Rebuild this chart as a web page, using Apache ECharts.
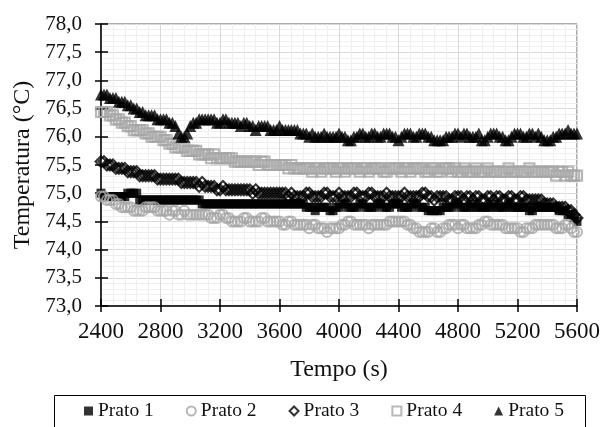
<!DOCTYPE html>
<html><head><meta charset="utf-8">
<script src="https://cdn.jsdelivr.net/npm/echarts@6/dist/echarts.min.js"></script>
<style>html,body{margin:0;padding:0;background:#fff}#c{width:603px;height:427px}</style>
</head><body><div id="c"></div>
<script>
// sampling grid of the time axis (s)
const tStart = 2400, tStep = 20;
const seriesNames = ['Prato 1', 'Prato 2', 'Prato 3', 'Prato 4', 'Prato 5'];
const prato1 = [
75.0,74.94,74.94,74.94,74.94,74.94,74.94,74.94,74.94,75.0,
75.0,75.0,75.0,74.88,74.88,74.88,74.88,74.88,74.88,74.88,
74.88,74.88,74.88,74.88,74.88,74.88,74.88,74.88,74.88,74.88,
74.88,74.88,74.88,74.88,74.81,74.81,74.81,74.81,74.81,74.81,
74.81,74.81,74.81,74.81,74.81,74.81,74.81,74.81,74.81,74.81,
74.81,74.81,74.81,74.81,74.81,74.81,74.81,74.81,74.81,74.81,
74.81,74.81,74.81,74.81,74.81,74.81,74.81,74.81,74.81,74.75,
74.75,74.75,74.69,74.75,74.75,74.75,74.75,74.69,74.69,74.75,
74.75,74.81,74.81,74.75,74.75,74.75,74.75,74.81,74.81,74.75,
74.75,74.75,74.75,74.81,74.81,74.75,74.75,74.75,74.81,74.81,
74.81,74.75,74.75,74.75,74.75,74.81,74.81,74.75,74.75,74.75,
74.69,74.69,74.69,74.69,74.69,74.75,74.75,74.75,74.75,74.81,
74.81,74.75,74.75,74.75,74.75,74.81,74.75,74.75,74.75,74.75,
74.75,74.75,74.81,74.75,74.75,74.75,74.75,74.81,74.75,74.75,
74.75,74.75,74.75,74.75,74.69,74.69,74.75,74.75,74.75,74.75,
74.75,74.75,74.75,74.75,74.69,74.69,74.69,74.62,74.62,74.56,
74.5];
const prato2 = [
74.94,74.94,74.88,74.88,74.88,74.81,74.81,74.75,74.75,74.75,
74.75,74.69,74.69,74.69,74.69,74.75,74.75,74.75,74.75,74.69,
74.69,74.69,74.69,74.62,74.69,74.69,74.62,74.62,74.69,74.62,
74.62,74.62,74.62,74.62,74.62,74.62,74.62,74.56,74.56,74.56,
74.62,74.62,74.56,74.56,74.5,74.5,74.5,74.5,74.56,74.56,
74.5,74.5,74.5,74.5,74.56,74.56,74.5,74.5,74.5,74.5,
74.5,74.44,74.44,74.5,74.5,74.44,74.44,74.44,74.44,74.44,
74.38,74.44,74.44,74.38,74.38,74.38,74.31,74.38,74.38,74.38,
74.38,74.44,74.44,74.5,74.5,74.44,74.44,74.44,74.44,74.44,
74.38,74.44,74.44,74.44,74.44,74.44,74.44,74.5,74.5,74.5,
74.5,74.5,74.5,74.44,74.44,74.38,74.38,74.31,74.31,74.31,
74.31,74.38,74.38,74.31,74.31,74.38,74.38,74.44,74.44,74.44,
74.38,74.44,74.44,74.38,74.38,74.38,74.38,74.44,74.44,74.5,
74.5,74.44,74.44,74.44,74.44,74.44,74.38,74.38,74.38,74.38,
74.38,74.31,74.31,74.38,74.38,74.38,74.44,74.44,74.44,74.44,
74.44,74.44,74.44,74.38,74.38,74.38,74.44,74.44,74.38,74.31,
74.31];
const prato3 = [
75.56,75.56,75.5,75.5,75.5,75.44,75.44,75.44,75.44,75.38,
75.38,75.38,75.38,75.31,75.31,75.31,75.31,75.31,75.31,75.25,
75.25,75.25,75.25,75.25,75.25,75.25,75.25,75.19,75.19,75.19,
75.19,75.19,75.19,75.12,75.19,75.12,75.12,75.12,75.12,75.06,
75.06,75.12,75.06,75.06,75.06,75.06,75.06,75.06,75.06,75.06,
75.06,75.0,75.06,75.0,75.0,75.0,75.0,75.0,75.0,75.0,
75.0,75.0,75.0,74.94,75.0,74.94,74.94,74.94,74.94,75.0,
75.0,74.94,74.94,74.94,74.94,75.0,75.0,74.94,74.94,74.94,
75.0,74.94,74.94,74.94,74.94,75.0,75.0,74.94,74.94,74.94,
75.0,75.0,74.94,74.94,74.94,74.94,75.0,74.94,74.94,74.94,
74.94,74.94,75.0,74.94,74.94,74.94,74.94,74.94,75.0,75.0,
74.94,74.94,74.88,74.94,74.94,74.94,74.94,74.88,74.88,74.94,
74.94,74.94,74.88,74.94,74.94,74.88,74.94,74.94,74.88,74.88,
74.94,74.94,74.88,74.94,74.94,74.88,74.88,74.94,74.94,74.88,
74.88,74.94,74.94,74.88,74.88,74.88,74.88,74.88,74.88,74.81,
74.81,74.81,74.81,74.75,74.75,74.75,74.75,74.69,74.69,74.62,
74.56];
const prato4 = [
76.44,76.44,76.44,76.38,76.38,76.31,76.31,76.25,76.25,76.19,
76.19,76.12,76.12,76.12,76.12,76.06,76.06,76.0,76.0,76.0,
76.0,75.94,75.94,75.88,75.88,75.81,75.81,75.81,75.81,75.75,
75.75,75.75,75.75,75.69,75.69,75.69,75.69,75.62,75.69,75.62,
75.62,75.62,75.62,75.62,75.62,75.56,75.56,75.56,75.56,75.56,
75.56,75.56,75.56,75.5,75.56,75.56,75.5,75.5,75.5,75.5,
75.5,75.5,75.5,75.44,75.5,75.44,75.44,75.44,75.44,75.44,
75.44,75.38,75.44,75.44,75.38,75.44,75.44,75.44,75.44,75.38,
75.44,75.44,75.38,75.44,75.44,75.44,75.44,75.38,75.44,75.44,
75.38,75.44,75.44,75.44,75.44,75.38,75.38,75.44,75.44,75.44,
75.44,75.38,75.44,75.44,75.38,75.44,75.44,75.44,75.44,75.38,
75.38,75.44,75.44,75.38,75.38,75.44,75.44,75.44,75.38,75.44,
75.38,75.38,75.44,75.38,75.38,75.38,75.44,75.38,75.38,75.38,
75.44,75.38,75.38,75.38,75.38,75.38,75.38,75.44,75.38,75.38,
75.38,75.38,75.38,75.38,75.44,75.38,75.38,75.38,75.38,75.38,
75.38,75.38,75.38,75.31,75.38,75.38,75.31,75.38,75.31,75.31,
75.31];
const prato5 = [
76.75,76.75,76.75,76.69,76.69,76.69,76.62,76.62,76.62,76.56,
76.56,76.5,76.5,76.44,76.44,76.38,76.38,76.38,76.38,76.31,
76.31,76.31,76.31,76.25,76.25,76.19,76.06,76.0,76.0,76.06,
76.19,76.25,76.25,76.31,76.31,76.31,76.31,76.31,76.31,76.25,
76.25,76.31,76.31,76.25,76.25,76.25,76.25,76.19,76.25,76.25,
76.19,76.19,76.12,76.19,76.19,76.19,76.19,76.12,76.12,76.12,
76.19,76.12,76.12,76.12,76.12,76.12,76.12,76.06,76.06,76.06,
76.0,76.06,76.0,76.0,76.0,76.06,76.0,76.0,76.0,76.0,
76.06,76.0,76.0,75.94,75.94,76.0,76.0,76.06,76.06,76.0,
76.0,76.06,76.06,76.0,76.0,76.06,76.06,76.06,76.0,76.0,
75.94,76.0,76.06,76.06,76.06,76.0,76.0,76.06,76.06,76.06,
76.0,76.0,75.94,75.94,75.94,75.94,76.0,76.0,76.0,76.06,
76.06,76.0,76.06,76.06,76.0,76.0,76.0,76.06,75.94,75.94,
76.0,76.06,76.06,76.06,76.0,76.0,75.94,75.94,76.0,76.06,
76.06,76.06,76.0,76.0,76.06,76.06,76.0,76.06,76.0,75.94,
75.94,75.94,76.0,76.0,76.06,76.06,76.06,76.12,76.06,76.06,
76.06];
const xTicks = [2400, 2800, 3200, 3600, 4000, 4400, 4800, 5200, 5600];
const yTicks = [73.0, 73.5, 74.0, 74.5, 75.0, 75.5, 76.0, 76.5, 77.0, 77.5, 78.0];

const allValues = [prato1, prato2, prato3, prato4, prato5];
const GRAY = '#a6a6a6', BLACK = '#000000';
const styles = [
  {symbol: 'rect', size: 9, itemStyle: {color: BLACK}},
  {symbol: 'circle', size: 10, itemStyle: {color: 'rgba(0,0,0,0)', borderColor: GRAY, borderWidth: 2}},
  {symbol: 'diamond', size: 11, itemStyle: {color: 'rgba(0,0,0,0)', borderColor: BLACK, borderWidth: 2}},
  {symbol: 'rect', size: 10, itemStyle: {color: 'rgba(0,0,0,0)', borderColor: GRAY, borderWidth: 2.2}},
  {symbol: 'triangle', size: 12, itemStyle: {color: BLACK}}
];
const series = seriesNames.map((name, k) => ({
  name, type: 'scatter',
  symbol: styles[k].symbol, symbolSize: styles[k].size,
  itemStyle: styles[k].itemStyle,
  silent: true, animation: false,
  data: allValues[k].map((v, i) => [tStart + i * tStep, v])
}));

const FONT = 'Liberation Serif';
const chart = echarts.init(document.getElementById('c'), null, {renderer: 'canvas'});
chart.setOption({
  backgroundColor: '#fff',
  animation: false,
  grid: {left: 101, right: 26, top: 24, bottom: 121, show: true, borderColor: '#595959', borderWidth: 1, backgroundColor: 'transparent'},
  xAxis: [{
    type: 'value', min: xTicks[0], max: xTicks[xTicks.length - 1], interval: 400,
    position: 'bottom',
    name: 'Tempo (s)', nameLocation: 'middle', nameGap: 52,
    nameTextStyle: {fontFamily: FONT, fontSize: 24, color: '#111'},
    axisLine: {lineStyle: {color: '#000', width: 1.5}},
    axisTick: {show: true, length: 6, lineStyle: {color: '#000', width: 1.5}},
    axisLabel: {fontFamily: FONT, fontSize: 23, color: '#111', margin: 14, formatter: v => String(v)},
    splitLine: {show: true, lineStyle: {color: '#d9d9d9', width: 1}},
    minorTick: {show: false, splitNumber: 5},
    minorSplitLine: {show: true, lineStyle: {color: '#efefef', width: 1}}
  }, {
    type: 'value', min: xTicks[0], max: xTicks[xTicks.length - 1], interval: 400,
    position: 'bottom',
    axisLine: {show: false},
    axisTick: {show: true, inside: true, length: 7, lineStyle: {color: '#000', width: 1.5}},
    axisLabel: {show: false}, splitLine: {show: false}
  }],
  yAxis: [{
    type: 'value', min: yTicks[0], max: yTicks[yTicks.length - 1], interval: 0.5,
    position: 'left',
    name: 'Temperatura (°C)', nameLocation: 'middle', nameGap: 62,
    nameTextStyle: {fontFamily: FONT, fontSize: 24, color: '#111'},
    axisLine: {show: true, lineStyle: {color: '#000', width: 1.5}},
    axisTick: {show: true, length: 6, lineStyle: {color: '#000', width: 1.5}},
    axisLabel: {fontFamily: FONT, fontSize: 21, color: '#111', margin: 19,
      formatter: v => v.toFixed(1).replace('.', ',')},
    splitLine: {show: true, lineStyle: {color: '#d9d9d9', width: 1}},
    minorTick: {show: false, splitNumber: 5},
    minorSplitLine: {show: true, lineStyle: {color: '#efefef', width: 1}}
  }, {
    type: 'value', min: yTicks[0], max: yTicks[yTicks.length - 1], interval: 0.5,
    position: 'left',
    axisLine: {show: false},
    axisTick: {show: true, inside: true, length: 7, lineStyle: {color: '#000', width: 1.5}},
    axisLabel: {show: false}, splitLine: {show: false}
  }],
  legend: {
    data: seriesNames, left: 84, top: 401, itemWidth: 9, itemHeight: 9, itemGap: 32,
    textStyle: {fontFamily: FONT, fontSize: 19.5, color: '#111'}, padding: 0
  },
  graphic: [{type: 'rect', left: 52, top: 393, shape: {width: 531, height: 50},
    style: {fill: 'none', stroke: '#000', lineWidth: 1}, silent: true}],
  series
});
</script></body></html>
